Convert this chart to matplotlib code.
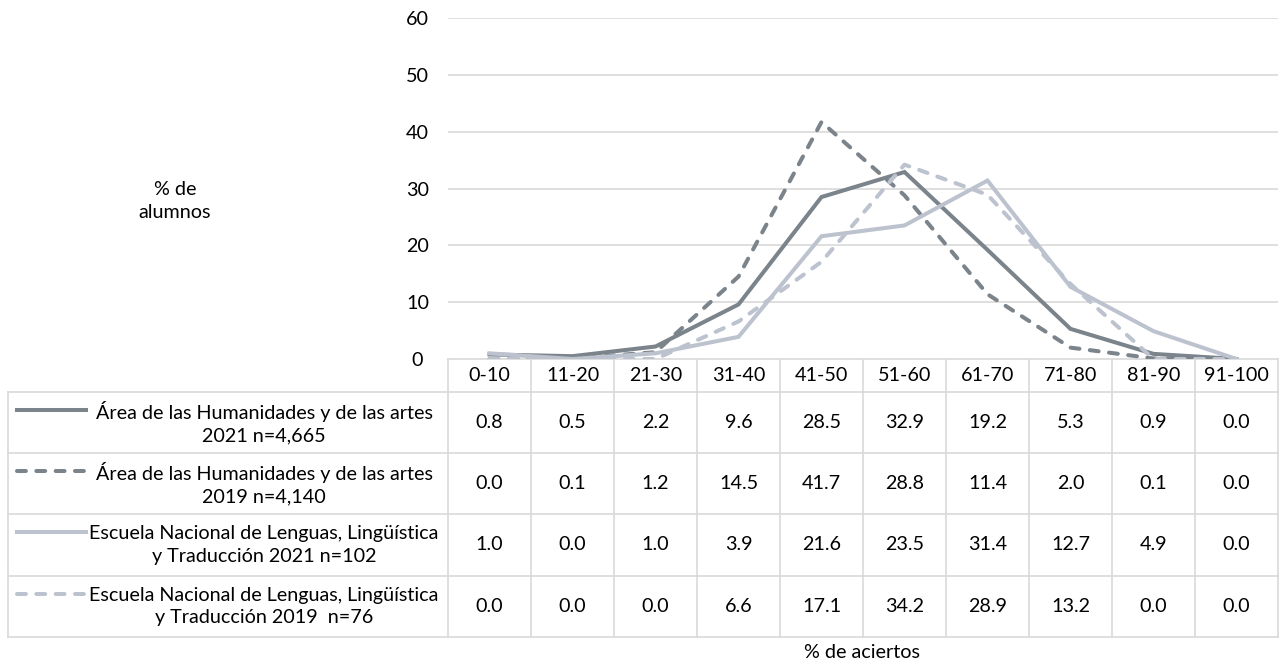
import matplotlib.pyplot as plt
import numpy as np

plt.rcParams['font.family'] = ['Lato', 'DejaVu Sans']

categories = ['0-10', '11-20', '21-30', '31-40', '41-50', '51-60', '61-70', '71-80', '81-90', '91-100']
area_2021 = [0.8, 0.5, 2.2, 9.6, 28.5, 32.9, 19.2, 5.3, 0.9, 0.0]
area_2019 = [0.0, 0.1, 1.2, 14.5, 41.7, 28.8, 11.4, 2.0, 0.1, 0.0]
enallt_2021 = [1.0, 0.0, 1.0, 3.9, 21.6, 23.5, 31.4, 12.7, 4.9, 0.0]
enallt_2019 = [0.0, 0.0, 0.0, 6.6, 17.1, 34.2, 28.9, 13.2, 0.0, 0.0]
series_labels = ['Área de las Humanidades y de las artes\n2021 n=4,665',
                 'Área de las Humanidades y de las artes\n2019 n=4,140',
                 'Escuela Nacional de Lenguas, Lingüística\ny Traducción 2021 n=102',
                 'Escuela Nacional de Lenguas, Lingüística\ny Traducción 2019  n=76']
yticks = [0, 10, 20, 30, 40, 50, 60]

dark = '#7b838b'
light = '#bcc3cf'
grid_c = '#d9d9d9'
dash = (0, (2.2, 2.6))
styles = [(dark, '-'), (dark, dash), (light, '-'), (light, dash)]
series = [area_2021, area_2019, enallt_2021, enallt_2019]

W, H = 1282, 667
fig = plt.figure(figsize=(W / 100, H / 100), dpi=100)

# pixel layout
x0, x1 = 448, 1278
ytop, ybot = 18, 359
rows = [359, 392, 453, 514, 576, 637]
tleft = 8
fs = 14.2
lw = 2.9

ax = fig.add_axes([x0 / W, 1 - ybot / H, (x1 - x0) / W, (ybot - ytop) / H])
n = len(categories)
xs = np.arange(n)
for vals, (c, ls) in zip(series, styles):
    ax.plot(xs, vals, color=c, linestyle=ls, lw=lw, dash_capstyle='round',
            solid_joinstyle='miter', zorder=3)
ax.set_xlim(-0.5, n - 0.5)
ax.set_ylim(0, 60)
ax.set_yticks(yticks)
ax.set_xticks([])
ax.grid(axis='y', color=grid_c, lw=1.2)
ax.set_axisbelow(True)
for s in ax.spines.values():
    s.set_visible(False)
ax.tick_params(axis='y', length=0, pad=22, labelsize=fs)
for lab in ax.get_yticklabels():
    lab.set_horizontalalignment('center')

# overlay axes in pixel coordinates for the data table
ov = fig.add_axes([0, 0, 1, 1], zorder=-1)
ov.set_xlim(0, W)
ov.set_ylim(H, 0)
ov.axis('off')
colw = (x1 - x0) / n
lc = '#d9d9d9'
ov.plot([x0, x1], [rows[0], rows[0]], color=lc, lw=1.2)
for r in rows[1:]:
    ov.plot([tleft, x1], [r, r], color=lc, lw=1.2)
for i in range(n + 1):
    ov.plot([x0 + i * colw] * 2, [rows[0], rows[-1]], color=lc, lw=1.2)
ov.plot([tleft, tleft], [rows[1], rows[-1]], color=lc, lw=1.2)

for i, cat in enumerate(categories):
    ov.text(x0 + (i + 0.5) * colw, (rows[0] + rows[1]) / 2, cat,
            ha='center', va='center', fontsize=fs)

for r, (vals, lab, (c, ls)) in enumerate(zip(series, series_labels, styles)):
    yc = (rows[r + 1] + rows[r + 2]) / 2
    for i, v in enumerate(vals):
        ov.text(x0 + (i + 0.5) * colw, yc, f'{v:.1f}', ha='center', va='center', fontsize=fs)
    ov.text(264, yc, lab, ha='center', va='center', fontsize=fs, linespacing=1.4)
    ov.plot([17, 86], [yc - 13, yc - 13], color=c, linestyle=ls, lw=lw, dash_capstyle='round')

fig.text(175 / W, 1 - 201 / H, '% de\nalumnos', ha='center', va='center', fontsize=fs, linespacing=1.45)
fig.text(862 / W, 1 - 652 / H, '% de aciertos', ha='center', va='center', fontsize=fs)

fig.savefig('out.png', dpi=100)
